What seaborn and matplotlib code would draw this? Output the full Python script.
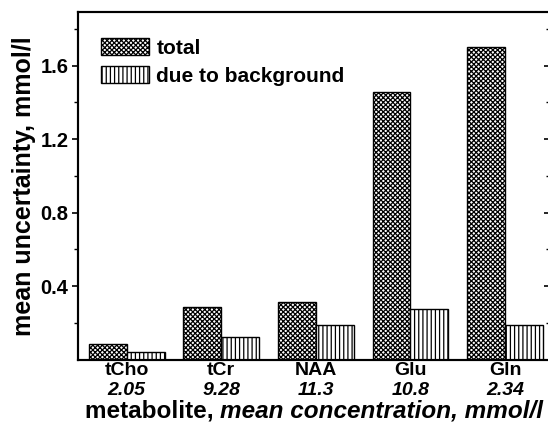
import matplotlib
matplotlib.use('Agg')
import matplotlib.pyplot as plt
import seaborn as sns
import pandas as pd
import numpy as np
from matplotlib.patches import Patch
from matplotlib.ticker import FixedLocator

# Data
metabolites = ['tCho', 'tCr', 'NAA', 'Glu', 'Gln']
concentrations = ['2.05', '9.28', '11.3', '10.8', '2.34']
total_unc = [0.085, 0.284, 0.313, 1.455, 1.703]
background_unc = [0.040, 0.120, 0.190, 0.273, 0.188]
series_names = ['total', 'due to background']
major_yticks = [0.4, 0.8, 1.2, 1.6]
minor_yticks = [0.2, 0.6, 1.0, 1.4, 1.8]

df = pd.DataFrame({
    'metabolite': metabolites * 2,
    'uncertainty': total_unc + background_unc,
    'series': [series_names[0]] * 5 + [series_names[1]] * 5,
})

sns.set_style('ticks')
plt.rcParams['font.family'] = ['Liberation Sans', 'DejaVu Sans']
plt.rcParams['font.weight'] = 'bold'
for key in ['text.color', 'axes.labelcolor', 'xtick.color', 'ytick.color', 'axes.edgecolor']:
    plt.rcParams[key] = 'black'
plt.rcParams['hatch.linewidth'] = 0.9

fig = plt.figure(figsize=(5.48, 4.29), dpi=100)
ax = fig.add_axes([0.1429, 0.162, 0.8608, 0.810])

sns.barplot(data=df, x='metabolite', y='uncertainty', hue='series',
            palette=['white', 'white'], edgecolor='black', linewidth=1.0,
            width=0.8, ax=ax, legend=False)

hatches = ['xxxxxxx', '||||']
for cont, h in zip(ax.containers, hatches):
    for bar in cont:
        bar.set_hatch(h)
        bar.set_edgecolor('black')

ax.set_xlim(-0.512, 4.476)
ax.set_ylim(0, 1.892)
ax.yaxis.set_major_locator(FixedLocator(major_yticks))
ax.yaxis.set_minor_locator(FixedLocator(minor_yticks))
ax.tick_params(axis='y', which='major', direction='out', length=4, width=1.2,
               labelsize=14.5, pad=3)
ax.tick_params(axis='y', which='minor', direction='out', length=3, width=1.0)
ax.tick_params(axis='x', length=0, labelsize=14, pad=2)
ax.set_xticks(range(len(metabolites)))
ax.set_xticklabels(metabolites, fontweight='bold')
for t in ax.get_yticklabels():
    t.set_fontweight('bold')

# right-hand ticks pointing inward
ax2 = ax.twinx()
ax2.set_ylim(ax.get_ylim())
ax2.yaxis.set_major_locator(FixedLocator(major_yticks))
ax2.yaxis.set_minor_locator(FixedLocator(minor_yticks))
ax2.tick_params(axis='y', which='major', direction='in', length=4, width=1.2, labelright=False)
ax2.tick_params(axis='y', which='minor', direction='in', length=3, width=1.0)

for a in [ax, ax2]:
    for side in ['left', 'right', 'top', 'bottom']:
        a.spines[side].set_visible(True)
        a.spines[side].set_linewidth(1.5)
        a.spines[side].set_color('black')

# concentrations under the metabolite names
for i, c in enumerate(concentrations):
    ax.text(i, -0.09, c, transform=ax.get_xaxis_transform(), ha='center', va='center',
            fontsize=14, fontweight='bold', fontstyle='italic')

ax.set_xlabel('')
ax.set_ylabel('mean uncertainty, mmol/l', fontsize=18, fontweight='bold', labelpad=3)

# x label: plain part + italic part
fig.canvas.draw()
renderer = fig.canvas.get_renderer()
y_lab = 1 - 411 / 429
t1 = fig.text(0, y_lab, 'metabolite, ', fontsize=17.5, fontweight='bold', va='center')
t2 = fig.text(0, y_lab, 'mean concentration, mmol/l', fontsize=17.5, fontweight='bold',
              fontstyle='italic', va='center')
w1 = t1.get_window_extent(renderer).width
x0 = 85
t1.set_x(x0 / 548)
t2.set_x((x0 + w1) / 548)

handles = [Patch(facecolor='white', edgecolor='black', hatch=hatches[0], linewidth=1.0),
           Patch(facecolor='white', edgecolor='black', hatch=hatches[1], linewidth=1.0)]
ax.legend(handles, series_names, loc='upper left', frameon=False,
          prop={'size': 15, 'weight': 'bold'}, handlelength=2.3, handleheight=0.9,
          handletextpad=0.36, labelspacing=0.38, borderpad=0, borderaxespad=0,
          bbox_to_anchor=(0.048, 0.925))

fig.savefig('out.png', dpi=100)
